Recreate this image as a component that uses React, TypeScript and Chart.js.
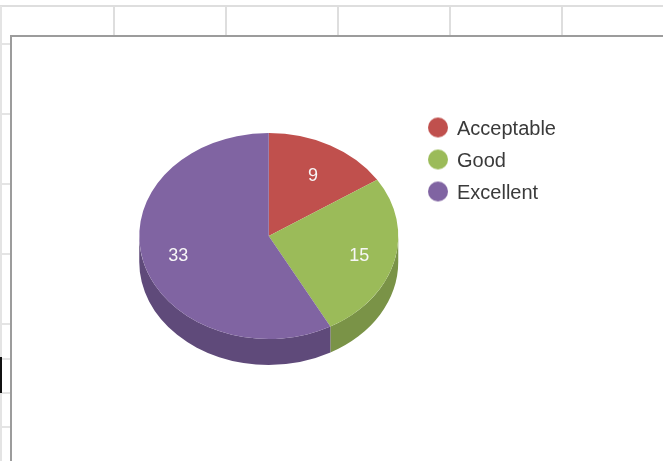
import React, { useEffect, useRef } from "react";
import { Chart, registerables } from "chart.js";

Chart.register(...registerables);

const categories = ["Acceptable", "Good", "Excellent"];
const values = [9, 15, 33];
const topColors = ["#C0504D", "#9BBB59", "#8064A2"];
const wallColors = ["#8E3B39", "#7A9347", "#5F4A7A"];

const WIDTH = 663;
const HEIGHT = 461;
const SQUASH = 103 / 129.5;
const DEPTH = 26;

const topGridColumns = [113, 225, 337, 449, 561];
const sideGridRows = [43, 113, 183, 253, 323, 358, 392, 426];

function legendDot(color: string) {
  // The transparent strip below the dot lifts it 2px above the label's centre line.
  const c = document.createElement("canvas");
  c.width = 24;
  c.height = 28;
  const g = c.getContext("2d")!;
  g.fillStyle = color;
  g.beginPath();
  g.arc(12, 12, 10, 0, Math.PI * 2);
  g.fill();
  return c;
}

const spreadsheet = {
  id: "spreadsheet",
  beforeDraw(chart: any) {
    const { ctx } = chart;
    ctx.save();
    ctx.fillStyle = "#ffffff";
    ctx.fillRect(0, 0, WIDTH, HEIGHT);
    ctx.fillStyle = "#dedede";
    ctx.fillRect(0, 5, WIDTH, 2);
    for (const x of topGridColumns) ctx.fillRect(x, 6, 2, 29);
    ctx.fillStyle = "#e4e4e4";
    ctx.fillRect(0, 6, 2, HEIGHT - 6);
    for (const y of sideGridRows) ctx.fillRect(0, y, 10, 2);
    ctx.fillStyle = "#111111";
    ctx.fillRect(0, 357, 2, 36);
    ctx.fillStyle = "#9c9c9c";
    ctx.fillRect(10, 35, WIDTH - 10, 2);
    ctx.fillRect(10, 35, 2, HEIGHT - 35);
    ctx.restore();
  },
};

const tiltedPie = {
  id: "tiltedPie",
  beforeDatasetsDraw(chart: any) {
    const { ctx } = chart;
    const arcs = chart.getDatasetMeta(0).data;
    const cy = arcs[0].y;
    ctx.save();
    ctx.translate(0, cy);
    ctx.scale(1, SQUASH);
    ctx.translate(0, -cy);
    const depth = DEPTH / SQUASH;
    arcs.forEach((arc: any, i: number) => {
      const { x, y, startAngle, endAngle, outerRadius } = arc.getProps(
        ["x", "y", "startAngle", "endAngle", "outerRadius"],
        true
      );
      const from = Math.max(startAngle, 0);
      const to = Math.min(endAngle, Math.PI);
      if (to <= from) return;
      ctx.beginPath();
      ctx.arc(x, y, outerRadius, from, to);
      ctx.arc(x, y + depth, outerRadius, to, from, true);
      ctx.closePath();
      ctx.fillStyle = wallColors[i];
      ctx.fill();
    });
  },
  afterDatasetsDraw(chart: any) {
    const { ctx } = chart;
    ctx.restore();
    const arcs = chart.getDatasetMeta(0).data;
    ctx.save();
    ctx.fillStyle = "#f7f7f7";
    ctx.font = '18px "Liberation Sans"';
    ctx.textAlign = "center";
    ctx.textBaseline = "middle";
    arcs.forEach((arc: any, i: number) => {
      const { x, y, startAngle, endAngle, outerRadius } = arc.getProps(
        ["x", "y", "startAngle", "endAngle", "outerRadius"],
        true
      );
      const mid = (startAngle + endAngle) / 2;
      ctx.fillText(
        String(values[i]),
        x + Math.cos(mid) * outerRadius * 0.72,
        y + Math.sin(mid) * outerRadius * 0.69 * SQUASH + 2.5
      );
    });
    ctx.restore();
  },
};

const legendPlacer = {
  id: "legendPlacer",
  afterLayout(chart: any) {
    const l = chart.legend;
    const pad = 12;
    l.left = 429 - pad;
    l.top = 119.5 - pad;
    l.right = WIDTH;
    l.bottom = HEIGHT;
    l.width = l.right - l.left;
    l.height = l.bottom - l.top;
  },
};

export default function App() {
  const ref = useRef<HTMLCanvasElement>(null);
  useEffect(() => {
    document.body.style.margin = "0";
    const chart = new Chart(ref.current!, {
      type: "pie",
      data: {
        labels: categories,
        datasets: [
          {
            data: values,
            backgroundColor: topColors,
            borderWidth: 0,
            clip: false,
          } as any,
        ],
      },
      options: {
        animation: false,
        responsive: false,
        layout: {
          padding: { left: 139, right: WIDTH - 398.5, top: 106.5, bottom: HEIGHT - 365.5 },
        },
        plugins: {
          tooltip: { enabled: false },
          legend: {
            position: "chartArea" as any,
            align: "start",
            labels: {
              usePointStyle: true,
              boxWidth: 18,
              boxHeight: 14,
              padding: 12,
              color: "#3a3a3a",
              font: { family: '"Liberation Sans"', size: 20 },
              generateLabels(c: any) {
                const base = (Chart as any).overrides.pie.plugins.legend.labels.generateLabels(c);
                return base.map((item: any, i: number) => ({
                  ...item,
                  pointStyle: legendDot(topColors[i]),
                }));
              },
            },
          },
        },
      },
      plugins: [spreadsheet, tiltedPie, legendPlacer],
    });
    return () => chart.destroy();
  }, []);
  return (
    <canvas
      ref={ref}
      width={WIDTH}
      height={HEIGHT}
      style={{ position: "fixed", left: 0, top: 0, display: "block", filter: "blur(0.5px)" }}
    />
  );
}
